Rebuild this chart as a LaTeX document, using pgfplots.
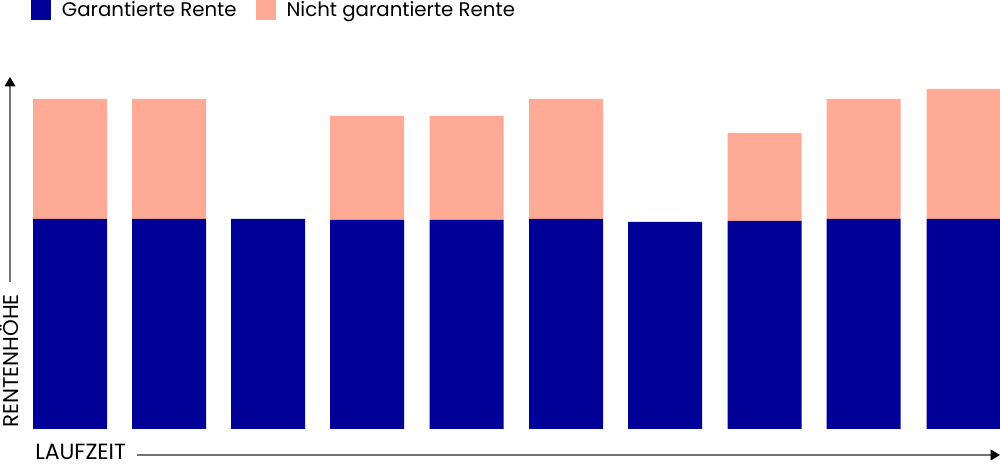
\documentclass[border=0pt]{standalone}
\usepackage{pgfplots}
\pgfplotsset{compat=1.18}
\usepackage{fontspec}
\setmainfont{Poppins}
\usetikzlibrary{arrows.meta}
\definecolor{garblue}{RGB}{0,0,153}
\definecolor{salmon}{RGB}{255,170,149}
\begin{document}
\begin{tikzpicture}
\begin{axis}[
  width=750pt, height=349.5pt, scale only axis,
  xmin=0, xmax=1000, ymin=-37, ymax=429,
  hide axis, clip=false,
  ybar stacked, bar width=74, bar shift=0pt,
  legend columns=-1,
  legend style={at={(axis cs:31,429)}, anchor=north west, draw=none, fill=none,
    inner sep=0pt, outer sep=0pt, font=\fontsize{14.8}{17}\selectfont,
    nodes={inner sep=0pt},
    /tikz/every odd column/.append style={column sep=8.25pt},
    /tikz/every even column/.append style={column sep=14.25pt}},
  sqleg/.style={legend image code/.code={\fill[##1,draw=none] (0pt,-7.5pt) rectangle (15pt,7.5pt);}},
]
\addplot[fill=garblue, draw=none, sqleg] coordinates {
 (70,210) (169,210) (268,210) (367,209) (466.5,209) (566,210) (665,207) (764.5,208) (863.5,210) (963.5,210)};
\addplot[fill=salmon, draw=none, sqleg] coordinates {
 (70,120) (169,120) (268,0) (367,104) (466.5,104) (566,120) (665,0) (764.5,88) (863.5,120) (963.5,130)};
\legend{Garantierte Rente, Nicht garantierte Rente}
\draw[black!55, line width=0.9pt, -{Triangle[black,width=8pt,length=7pt]}] (axis cs:10,147) -- (axis cs:10,352);
\draw[black!55, line width=0.9pt, -{Triangle[black,width=8pt,length=7pt]}] (axis cs:137,-26) -- (axis cs:1000,-26);
\node[rotate=90, anchor=base west, inner sep=0pt, font=\fontsize{16}{18}\selectfont] at (axis cs:18,1) {RENTENHÖHE};
\node[anchor=base west, inner sep=0pt, font=\fontsize{16.5}{18}\selectfont] at (axis cs:35,-31) {LAUFZEIT};
\end{axis}
\pgfresetboundingbox
\path (current axis.south west) rectangle (current axis.north east);
\end{tikzpicture}
\end{document}
